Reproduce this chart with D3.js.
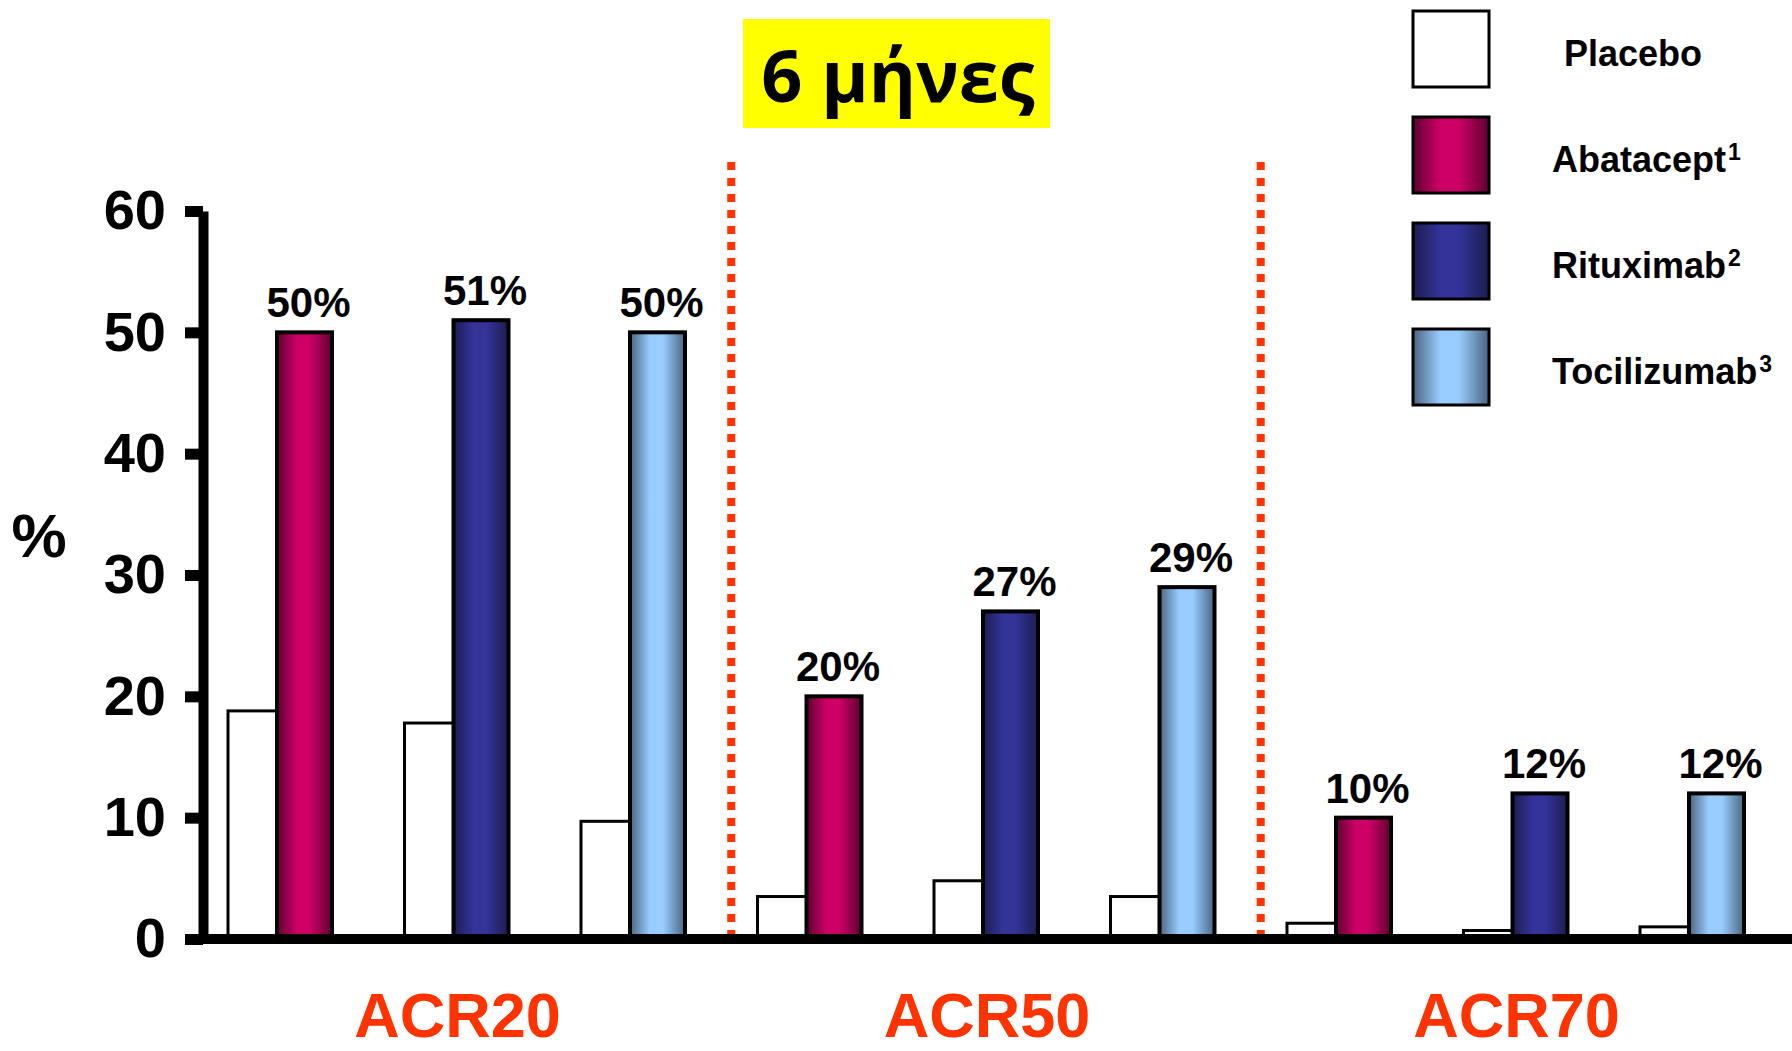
<!DOCTYPE html>
<html>
<head>
<meta charset="utf-8">
<script src="https://cdn.jsdelivr.net/npm/d3@7"></script>
<style>
  html, body { margin: 0; padding: 0; background: #ffffff; }
  svg { display: block; }
  text { font-family: "Liberation Sans", Arial, sans-serif; font-weight: bold; }
</style>
</head>
<body>
<svg id="chart" width="1792" height="1051"></svg>
<script>
// ACR response at 6 months, placebo vs active treatment
const categories = ["ACR20", "ACR50", "ACR70"];
const treatments = ["Abatacept", "Rituximab", "Tocilizumab"];
const treatmentSup = ["1", "2", "3"];
// one value per (category, treatment) pair, in category order
const placeboValues = [18.8, 17.8, 9.7, 3.5, 4.8, 3.5, 1.3, 0.7, 1.0];
const activeValues = [50, 51, 50, 20, 27, 29, 10, 12, 12];
const activeLabels = ["50%", "51%", "50%", "20%", "27%", "29%", "10%", "12%", "12%"];
const yTicks = [0, 10, 20, 30, 40, 50, 60];
const titleText = "6 μήνες";
const yTitle = "%";

// bar colours: edge (dark) and centre (light) of the horizontal sheen
const treatmentEdge = ["#5e0030", "#1c1c50", "#4a6480"];
const treatmentMid = ["#cc0066", "#333399", "#99ccff"];

const svg = d3.select("#chart");
const W = 1792, H = 1051;

const pairs = [];
categories.forEach((c, ci) => treatments.forEach((t, ti) => {
  const k = ci * treatments.length + ti;
  pairs.push({ key: c + "|" + t, cat: ci, trt: ti,
               placebo: placeboValues[k], active: activeValues[k], label: activeLabels[k] });
}));

const x = d3.scalePoint().domain(pairs.map(d => d.key)).range([188.75, 1777.25]).padding(0.5);
const y = d3.scaleLinear().domain([0, 60]).range([939, 211]);

const placeboW = 49, activeW = 55;

// gradients
const defs = svg.append("defs");
treatments.forEach((t, i) => {
  const g = defs.append("linearGradient").attr("id", "grad" + i)
    .attr("x1", "0%").attr("x2", "100%").attr("y1", "0%").attr("y2", "0%");
  g.append("stop").attr("offset", "0%").attr("stop-color", treatmentEdge[i]);
  g.append("stop").attr("offset", "36%").attr("stop-color", treatmentMid[i]);
  g.append("stop").attr("offset", "60%").attr("stop-color", treatmentMid[i]);
  g.append("stop").attr("offset", "100%").attr("stop-color", treatmentEdge[i]);
});

// title box
const title = svg.append("g");
title.append("rect").attr("x", 743).attr("y", 19).attr("width", 307).attr("height", 109).attr("fill", "#ffff00");
title.append("text").attr("x", 898).attr("y", 102).attr("text-anchor", "middle")
  .style("font-family", "'Open Sans', 'Noto Sans', sans-serif").style("font-weight", 700)
  .style("font-size", "72px").attr("fill", "#000").text(titleText);

// dotted separators between ACR groups
const sepX = [1, 2].map(ci => {
  const a = x(pairs[ci * 3 - 1].key), b = x(pairs[ci * 3].key);
  return (a + b) / 2 + 13;
});
svg.append("g").selectAll("line").data(sepX).join("line")
  .attr("x1", d => d).attr("x2", d => d).attr("y1", 162).attr("y2", 934)
  .attr("stroke", "#ff3300").attr("stroke-width", 8).attr("stroke-dasharray", "8 8");

// bars
const bars = svg.append("g");
bars.selectAll("rect.placebo").data(pairs).join("rect").attr("class", "placebo")
  .attr("x", d => x(d.key) - placeboW).attr("width", placeboW)
  .attr("y", d => y(d.placebo)).attr("height", d => y(0) - y(d.placebo))
  .attr("fill", "#ffffff").attr("stroke", "#000").attr("stroke-width", 3);
bars.selectAll("rect.active").data(pairs).join("rect").attr("class", "active")
  .attr("x", d => x(d.key)).attr("width", activeW)
  .attr("y", d => y(d.active)).attr("height", d => y(0) - y(d.active))
  .attr("fill", d => "url(#grad" + d.trt + ")").attr("stroke", "#000").attr("stroke-width", 4);

// value labels
bars.selectAll("text.val").data(pairs).join("text").attr("class", "val")
  .attr("x", d => x(d.key) + activeW / 2 + 4).attr("y", d => y(d.active) - 15)
  .attr("text-anchor", "middle").style("font-size", "42px").attr("fill", "#000")
  .text(d => d.label);

// y axis
const yAxis = svg.append("g").attr("transform", "translate(203,0)")
  .call(d3.axisLeft(y).tickValues(yTicks).tickSize(18).tickSizeOuter(0).tickPadding(19));
yAxis.select(".domain").attr("stroke", "#000").attr("stroke-width", 10);
yAxis.selectAll(".tick line").attr("stroke", "#000").attr("stroke-width", 11);
yAxis.selectAll(".tick text").style("font-size", "56px").style("font-family", "'Liberation Sans', Arial, sans-serif")
  .style("font-weight", "bold").attr("fill", "#000");

// x baseline
svg.append("line").attr("x1", 185).attr("x2", W).attr("y1", y(0)).attr("y2", y(0))
  .attr("stroke", "#000").attr("stroke-width", 10);

// y title
svg.append("text").attr("x", 39).attr("y", 557).attr("text-anchor", "middle")
  .style("font-size", "62px").attr("fill", "#000").text(yTitle);

// category labels under the middle pair of each group
svg.append("g").selectAll("text").data(categories).join("text")
  .attr("x", (d, i) => x(pairs[i * 3 + 1].key) + 4).attr("y", 1037)
  .attr("text-anchor", "middle").style("font-size", "63px").attr("fill", "#ff3300")
  .text(d => d);

// legend
const legendItems = [{ name: "Placebo", sup: "", fill: "#ffffff" }]
  .concat(treatments.map((t, i) => ({ name: t, sup: treatmentSup[i], fill: "url(#grad" + i + ")" })));
const leg = svg.append("g").selectAll("g").data(legendItems).join("g")
  .attr("transform", (d, i) => `translate(1413,${11 + i * 106})`);
leg.append("rect").attr("width", 76).attr("height", 76)
  .attr("fill", d => d.fill).attr("stroke", "#000").attr("stroke-width", 3);
const lt = leg.append("text").attr("x", (d, i) => i === 0 ? 151 : 139).attr("y", 55)
  .style("font-size", "36px").attr("fill", "#000");
lt.append("tspan").text(d => d.name);
lt.append("tspan").attr("dx", 2).attr("dy", -12).style("font-size", "23px").text(d => d.sup);
</script>
</body>
</html>
